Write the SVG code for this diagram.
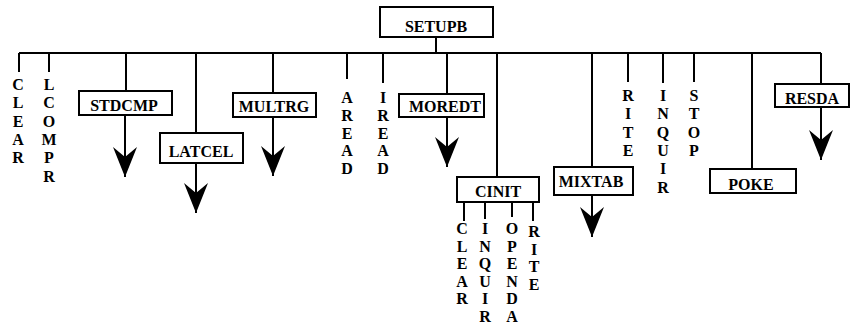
<svg xmlns="http://www.w3.org/2000/svg" width="852" height="326" viewBox="0 0 852 326">
<style>
.ln{stroke:#000;stroke-width:2;fill:none}
.box{stroke:#000;stroke-width:2;fill:#fff}
.t{font-family:"Liberation Serif","Times New Roman",serif;font-weight:bold;font-size:16px;fill:#000;text-anchor:middle}
.arr{stroke:#000;stroke-width:2;fill:none;marker-end:url(#ah)}
</style>
<defs>
<marker id="ah" viewBox="0 0 30 24" markerWidth="30" markerHeight="24" refX="30" refY="12" orient="auto" markerUnits="userSpaceOnUse">
<path d="M30,12 L0,0 L10,12 L0,24 Z" fill="#000"/>
</marker>
</defs>
<rect width="852" height="326" fill="#fff"/>
<g id="connectors">
<path class="ln" d="M436,37 V53 M19,53 H821"/>
<path class="ln" d="M19,53 V72 M49,53 V72 M126,53 V91 M196,53 V133 M273,53 V93 M347,53 V79 M383,53 V83 M447,53 V94 M497,53 V177 M592,53 V167 M628,53 V82 M663,53 V83 M694,53 V82 M752,53 V169 M821,53 V84"/>
<path class="ln" d="M464,202 V221 M485,202 V219 M512,202 V217 M533,202 V221"/>
<path class="arr" d="M125,115 V177"/>
<path class="arr" d="M196,163 V213"/>
<path class="arr" d="M273,117 V176"/>
<path class="arr" d="M447,117 V167"/>
<path class="arr" d="M592,195 V237"/>
<path class="arr" d="M821,107 V160"/>
</g>
<g id="SETUPB"><rect class="box" x="380" y="7" width="113" height="30"/><text class="t" x="436" y="32">SETUPB</text></g>
<g id="CLEAR"><text class="t" y="90"><tspan x="18">C</tspan><tspan x="18" dy="18.3">L</tspan><tspan x="18" dy="18.3">E</tspan><tspan x="18" dy="18.3">A</tspan><tspan x="18" dy="18.3">R</tspan></text></g>
<g id="LCOMPR"><text class="t" y="90"><tspan x="49">L</tspan><tspan x="49" dy="18.3">C</tspan><tspan x="49" dy="18.3">O</tspan><tspan x="49" dy="18.3">M</tspan><tspan x="49" dy="18.3">P</tspan><tspan x="49" dy="18.3">R</tspan></text></g>
<g id="STDCMP"><rect class="box" x="79" y="91" width="93" height="24"/><text class="t" x="124" y="111">STDCMP</text></g>
<g id="LATCEL"><rect class="box" x="160" y="133" width="83" height="30"/><text class="t" x="201" y="157">LATCEL</text></g>
<g id="MULTRG"><rect class="box" x="233" y="93" width="83" height="24"/><text class="t" x="274" y="112">MULTRG</text></g>
<g id="AREAD"><text class="t" y="103"><tspan x="347">A</tspan><tspan x="347" dy="17.8">R</tspan><tspan x="347" dy="17.8">E</tspan><tspan x="347" dy="17.8">A</tspan><tspan x="347" dy="17.8">D</tspan></text></g>
<g id="IREAD"><text class="t" y="103"><tspan x="383">I</tspan><tspan x="383" dy="17.8">R</tspan><tspan x="383" dy="17.8">E</tspan><tspan x="383" dy="17.8">A</tspan><tspan x="383" dy="17.8">D</tspan></text></g>
<g id="MOREDT"><rect class="box" x="399" y="94" width="85" height="23"/><text class="t" x="445" y="112">MOREDT</text></g>
<g id="CINIT"><rect class="box" x="457" y="177" width="82" height="25"/><text class="t" x="498" y="197">CINIT</text></g>
<g id="CINIT_CLEAR"><text class="t" y="234"><tspan x="462">C</tspan><tspan x="462" dy="17.6">L</tspan><tspan x="462" dy="17.6">E</tspan><tspan x="462" dy="17.6">A</tspan><tspan x="462" dy="17.6">R</tspan></text></g>
<g id="CINIT_INQUIR"><text class="t" y="234"><tspan x="485">I</tspan><tspan x="485" dy="17.6">N</tspan><tspan x="485" dy="17.6">Q</tspan><tspan x="485" dy="17.6">U</tspan><tspan x="485" dy="17.6">I</tspan><tspan x="485" dy="17.6">R</tspan></text></g>
<g id="CINIT_OPENDA"><text class="t" y="234"><tspan x="512">O</tspan><tspan x="512" dy="17.6">P</tspan><tspan x="512" dy="17.6">E</tspan><tspan x="512" dy="17.6">N</tspan><tspan x="512" dy="17.6">D</tspan><tspan x="512" dy="17.6">A</tspan></text></g>
<g id="CINIT_RITE"><text class="t" y="237"><tspan x="534">R</tspan><tspan x="534" dy="17.6">I</tspan><tspan x="534" dy="17.6">T</tspan><tspan x="534" dy="17.6">E</tspan></text></g>
<g id="MIXTAB"><rect class="box" x="554" y="167" width="79" height="28"/><text class="t" x="591" y="187">MIXTAB</text></g>
<g id="RITE"><text class="t" y="101"><tspan x="628">R</tspan><tspan x="628" dy="18.3">I</tspan><tspan x="628" dy="18.3">T</tspan><tspan x="628" dy="18.3">E</tspan></text></g>
<g id="INQUIR"><text class="t" y="101"><tspan x="663">I</tspan><tspan x="663" dy="18.3">N</tspan><tspan x="663" dy="18.3">Q</tspan><tspan x="663" dy="18.3">U</tspan><tspan x="663" dy="18.3">I</tspan><tspan x="663" dy="18.3">R</tspan></text></g>
<g id="STOP"><text class="t" y="101"><tspan x="694">S</tspan><tspan x="694" dy="18.3">T</tspan><tspan x="694" dy="18.3">O</tspan><tspan x="694" dy="18.3">P</tspan></text></g>
<g id="POKE"><rect class="box" x="710" y="169" width="86" height="24"/><text class="t" x="751" y="190">POKE</text></g>
<g id="RESDA"><rect class="box" x="775" y="84" width="74" height="23"/><text class="t" x="812" y="104">RESDA</text></g>
</svg>
